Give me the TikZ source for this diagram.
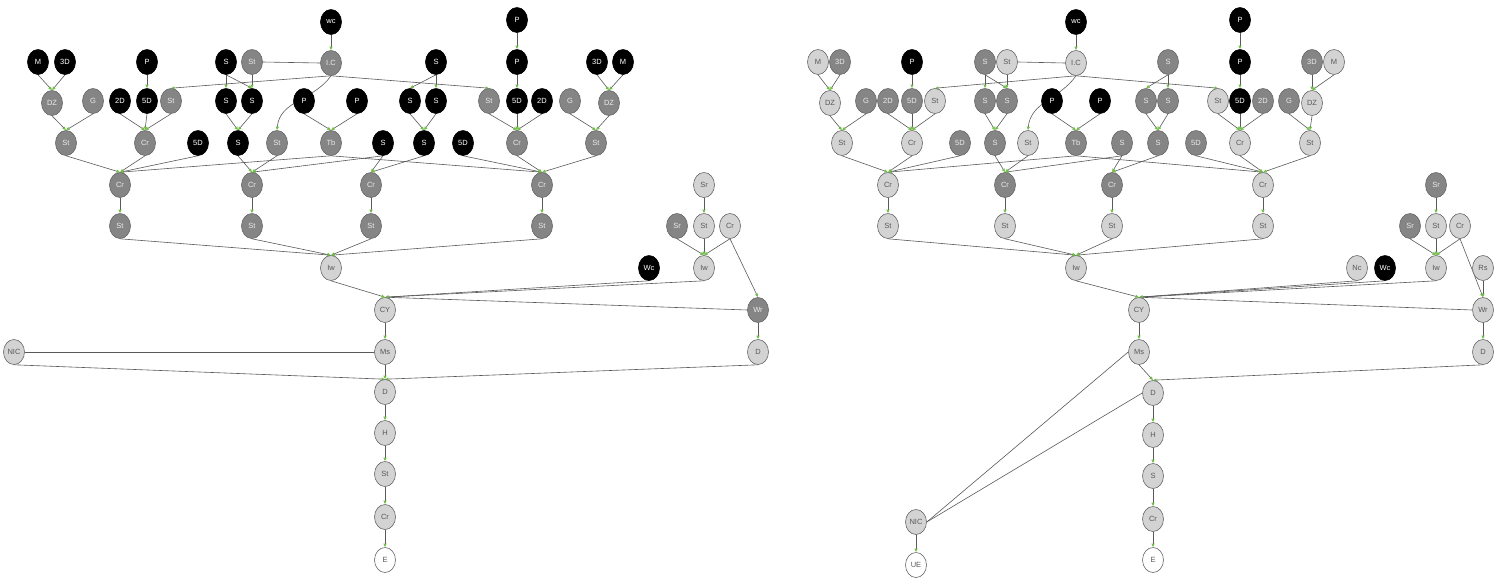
\documentclass[tikz,border=0pt]{standalone}
\usepackage{fontspec}
\setmainfont{Liberation Sans}
\usetikzlibrary{shapes.geometric,arrows.meta,backgrounds}
\definecolor{dk}{HTML}{858585}
\definecolor{lt}{HTML}{D3D3D3}
\definecolor{gr}{HTML}{6FBF45}
\newcommand\mynd[5]{\node[#4] (#1) at (#2,#3) {#5};}
\begin{document}
\begin{tikzpicture}[x=1pt,y=-1pt,
  nd/.style={ellipse,draw=gray!80!black,line width=0.6pt,minimum width=21pt,minimum height=25pt,inner sep=0pt,font=\fontsize{7.5}{7.5}\selectfont},
  blk/.style={nd,fill=black,text=white,draw=black},
  dk/.style={nd,fill=dk,text=white!85!gray},
  lt/.style={nd,fill=lt,text=black!65},
  wt/.style={nd,fill=white,text=black!65},
  e/.style={draw=black!65,line width=0.6pt,-{Latex[length=3.5pt,width=3.5pt,color=gr]}},
  ln/.style={draw=black!65,line width=0.6pt}]
\useasboundingbox (0,0) rectangle (1500,587);
% ---------- left ----------
\mynd{Lwc}{331}{22}{blk}{wc}
\mynd{LP0}{517}{20}{blk}{P}
\mynd{LM}{38}{62}{blk}{M}
\mynd{L3Da}{65}{62}{blk}{3D}
\mynd{LPa}{147}{62}{blk}{P}
\mynd{LSa}{226}{62}{blk}{S}
\mynd{LSt0}{252}{62}{dk}{St}
\mynd{LIC}{331}{63}{dk}{I.C}
\mynd{LSb}{436}{62}{blk}{S}
\mynd{LPb}{517}{62}{blk}{P}
\mynd{L3Db}{597}{62}{blk}{3D}
\mynd{LMb}{623}{62}{blk}{M}
\mynd{LDZa}{52}{103}{dk}{DZ}
\mynd{LGa}{93}{101}{dk}{G}
\mynd{L2Da}{120}{101}{blk}{2D}
\mynd{L5Da}{147}{101}{blk}{5D}
\mynd{LSt1}{171}{101}{dk}{St}
\mynd{LS1}{226}{101}{blk}{S}
\mynd{LS2}{252}{101}{blk}{S}
\mynd{LP1}{304}{101}{blk}{P}
\mynd{LP2}{357}{101}{blk}{P}
\mynd{LS3}{410}{101}{blk}{S}
\mynd{LS4}{436}{101}{blk}{S}
\mynd{LSt2}{489}{101}{dk}{St}
\mynd{L5Db}{517}{101}{blk}{5D}
\mynd{L2Db}{542}{101}{blk}{2D}
\mynd{LGb}{570}{101}{dk}{G}
\mynd{LDZb}{609}{103}{dk}{DZ}
\mynd{LSt3}{66}{143}{dk}{St}
\mynd{LCr0}{145}{143}{dk}{Cr}
\mynd{L5Dc}{198}{143}{blk}{5D}
\mynd{LS5}{238}{143}{blk}{S}
\mynd{LSt4}{277}{143}{dk}{St}
\mynd{LTb}{331}{143}{dk}{Tb}
\mynd{LS6}{383}{143}{blk}{S}
\mynd{LS7}{424}{143}{blk}{S}
\mynd{L5Dd}{463}{143}{blk}{5D}
\mynd{LCr1}{517}{143}{dk}{Cr}
\mynd{LSt5}{596}{143}{dk}{St}
\mynd{LCra}{120}{185}{dk}{Cr}
\mynd{LCrb}{252}{185}{dk}{Cr}
\mynd{LCrc}{371}{185}{dk}{Cr}
\mynd{LCrd}{542}{185}{dk}{Cr}
\mynd{LSta}{120}{226}{dk}{St}
\mynd{LStb}{252}{226}{dk}{St}
\mynd{LStc}{371}{226}{dk}{St}
\mynd{LStd}{542}{226}{dk}{St}
\mynd{LIw}{331}{268}{lt}{Iw}
\mynd{LWc}{649}{268}{blk}{Wc}
\mynd{LSr}{704}{185}{lt}{Sr}
\mynd{LSr2}{677}{226}{dk}{Sr}
\mynd{LSt6}{704}{226}{lt}{St}
\mynd{LCr2}{730}{226}{lt}{Cr}
\mynd{LIw2}{704}{268}{lt}{Iw}
\mynd{LCY}{385}{310}{lt}{CY}
\mynd{LWr}{758}{310}{dk}{Wr}
\mynd{LNIC}{14}{352}{lt}{NIC}
\mynd{LMs}{385}{352}{lt}{Ms}
\mynd{LD2}{758}{352}{lt}{D}
\mynd{LD}{385}{392}{lt}{D}
\mynd{LH}{385}{433}{lt}{H}
\mynd{LSt7}{385}{474}{lt}{St}
\mynd{LCr3}{385}{517}{lt}{Cr}
\mynd{LE}{385}{560}{wt}{E}
% ---------- right ----------
\mynd{Rwc}{1076}{22}{blk}{wc}
\mynd{RP0}{1240}{20}{blk}{P}
\mynd{RM}{818}{62}{lt}{M}
\mynd{R3Da}{840}{62}{dk}{3D}
\mynd{RPa}{912}{62}{blk}{P}
\mynd{RSa}{985}{62}{dk}{S}
\mynd{RSt0}{1007}{62}{lt}{St}
\mynd{RIC}{1076}{63}{lt}{I.C}
\mynd{RSb}{1168}{62}{dk}{S}
\mynd{RPb}{1240}{62}{blk}{P}
\mynd{R3Db}{1312}{62}{dk}{3D}
\mynd{RMb}{1334}{62}{lt}{M}
\mynd{RDZa}{830}{103}{lt}{DZ}
\mynd{RGa}{866}{101}{dk}{G}
\mynd{R2Da}{888}{101}{dk}{2D}
\mynd{R5Da}{912}{101}{dk}{5D}
\mynd{RSt1}{935}{101}{lt}{St}
\mynd{RS1}{985}{101}{dk}{S}
\mynd{RS2}{1007}{101}{dk}{S}
\mynd{RP1}{1052}{101}{blk}{P}
\mynd{RP2}{1100}{101}{blk}{P}
\mynd{RS3}{1146}{101}{dk}{S}
\mynd{RS4}{1168}{101}{dk}{S}
\mynd{RSt2}{1218}{101}{lt}{St}
\mynd{R5Db}{1240}{101}{blk}{5D}
\mynd{R2Db}{1263}{101}{dk}{2D}
\mynd{RGb}{1289}{101}{dk}{G}
\mynd{RDZb}{1312}{103}{lt}{DZ}
\mynd{RSt3}{842}{143}{lt}{St}
\mynd{RCr0}{912}{143}{lt}{Cr}
\mynd{R5Dc}{960}{143}{dk}{5D}
\mynd{RS5}{995}{143}{dk}{S}
\mynd{RSt4}{1028}{143}{lt}{St}
\mynd{RTb}{1076}{143}{dk}{Tb}
\mynd{RS6}{1122}{143}{dk}{S}
\mynd{RS7}{1158}{143}{dk}{S}
\mynd{R5Dd}{1196}{143}{dk}{5D}
\mynd{RCr1}{1240}{143}{lt}{Cr}
\mynd{RSt5}{1310}{143}{lt}{St}
\mynd{RCra}{888}{185}{lt}{Cr}
\mynd{RCrb}{1005}{185}{dk}{Cr}
\mynd{RCrc}{1112}{185}{dk}{Cr}
\mynd{RCrd}{1263}{185}{lt}{Cr}
\mynd{RSta}{888}{226}{lt}{St}
\mynd{RStb}{1005}{226}{lt}{St}
\mynd{RStc}{1112}{226}{lt}{St}
\mynd{RStd}{1263}{226}{lt}{St}
\mynd{RIw}{1076}{268}{lt}{Iw}
\mynd{RNc}{1357}{268}{lt}{Nc}
\mynd{RWc}{1385}{268}{blk}{Wc}
\mynd{RRs}{1483}{268}{lt}{Rs}
\mynd{RSr}{1436}{185}{dk}{Sr}
\mynd{RSr2}{1410}{226}{dk}{Sr}
\mynd{RSt6}{1436}{226}{lt}{St}
\mynd{RCr2}{1460}{226}{lt}{Cr}
\mynd{RIw2}{1436}{268}{lt}{Iw}
\mynd{RCY}{1139}{310}{lt}{CY}
\mynd{RWr}{1483}{310}{lt}{Wr}
\mynd{RMs}{1139}{352}{lt}{Ms}
\mynd{RD2}{1483}{352}{lt}{D}
\mynd{RD}{1153}{393}{lt}{D}
\mynd{RH}{1153}{435}{lt}{H}
\mynd{RSt7}{1153}{476}{lt}{S}
\mynd{RCr3}{1153}{519}{lt}{Cr}
\mynd{RE}{1153}{560}{wt}{E}
\mynd{RNIC}{916}{522}{lt}{NIC}
\mynd{RUE}{916}{565}{wt}{UE}
% ---------- edges ----------
\begin{pgfonlayer}{background}
\foreach \p in {L,R}{
 \foreach \a/\b in {wc/IC,P0/Pb,Pb/5Db,M/DZa,3Da/DZa,Pa/5Da,Sa/S1,Sa/S2,St0/S2,IC/St1,IC/St2,Sb/S4,Sb/S3,3Db/DZb,Mb/DZb,
   DZa/St3,Ga/St3,2Da/Cr0,5Da/Cr0,St1/Cr0,S1/S5,S2/S5,P1/Tb,P2/Tb,S3/S7,S4/S7,St2/Cr1,5Db/Cr1,2Db/Cr1,Gb/St5,DZb/St5,
   St3/Cra,Cr0/Cra,5Dc/Cra,Tb/Cra,S5/Crb,St4/Crb,S6/Crb,S6/Crc,S7/Crc,Tb/Crd,5Dd/Crd,Cr1/Crd,St5/Crd,
   Cra/Sta,Crb/Stb,Crc/Stc,Crd/Std,Sta/Iw,Stb/Iw,Stc/Iw,Std/Iw,Iw/CY,Wc/CY,Iw2/CY,
   Sr/St6,Sr2/Iw2,St6/Iw2,Cr2/Iw2,Cr2/Wr,CY/Ms,Wr/D2,D2/D,Ms/D,D/H,H/St7,St7/Cr3,Cr3/E}
  {\draw[e] (\p\a.south) -- (\p\b.north);}
 \draw[e] (\p Wr.west) -- (\p CY.north);
 \draw[ln] (\p St0.east) -- (\p IC.west);
 \draw[e] (\p IC.south) to[out=-125,in=85] (\p St4.north);
}
\draw[ln] (LMs.west) -- (LNIC.east);
\draw[e] (LNIC.south) -- (LD.north);
\draw[ln] (RMs.west) -- (RNIC.east);
\draw[ln] (RD.west) -- (RNIC.east);
\draw[e] (RNIC.south) -- (RUE.north);
\draw[e] (RNc.south) -- (RCY.north);
\draw[e] (RRs.south) -- (RWr.north);
\end{pgfonlayer}
\end{tikzpicture}
\end{document}
